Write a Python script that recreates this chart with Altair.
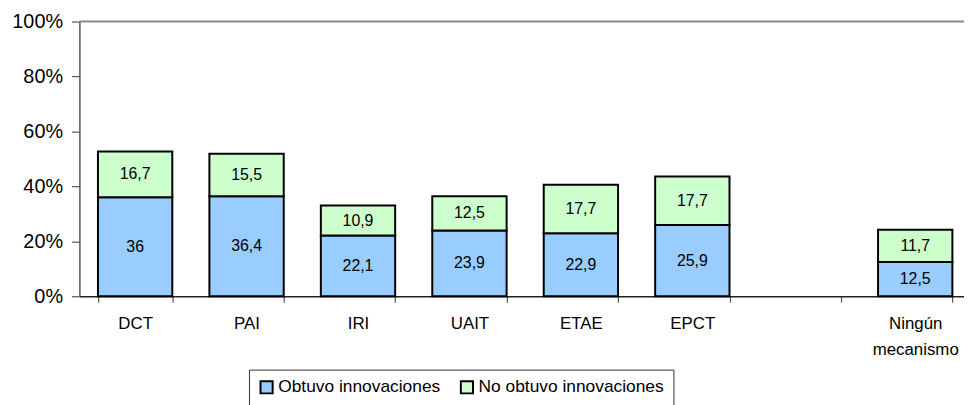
import altair as alt
import pandas as pd

categories = ["DCT", "PAI", "IRI", "UAIT", "ETAE", "EPCT", "", "Ningún mecanismo"]
bar_categories = ["DCT", "PAI", "IRI", "UAIT", "ETAE", "EPCT", "Ningún mecanismo"]
series = ["Obtuvo innovaciones", "No obtuvo innovaciones"]
obtuvo = [36, 36.4, 22.1, 23.9, 22.9, 25.9, 12.5]
no_obtuvo = [16.7, 15.5, 10.9, 12.5, 17.7, 17.7, 11.7]
colors = ["#99CCFF", "#CCFFCC"]
y_ticks = [0, 20, 40, 60, 80, 100]

rows = []
for i, c in enumerate(bar_categories):
    rows.append({"cat": c, "serie": series[0], "idx": 0, "value": obtuvo[i]})
    rows.append({"cat": c, "serie": series[1], "idx": 1, "value": no_obtuvo[i]})
df = pd.DataFrame(rows)

FONT = "Liberation Sans"

xscale = alt.Scale(domain=categories, range=[0, 899], paddingInner=0.333, paddingOuter=0.1665)
yscale = alt.Scale(domain=[0, 100], nice=False)

base = alt.Chart(df).transform_stack(
    stack="value", groupby=["cat"], as_=["v0", "v1"], sort=[alt.SortField("idx")]
).transform_calculate(
    mid="(datum.v0 + datum.v1) / 2",
    lab="replace(toString(datum.value), '.', ',')",
)

xaxis = alt.Axis(
    title=None, labelAngle=0, labelFont=FONT, labelFontSize=17, labelColor="black",
    tickBand="extent", tickSize=6, tickColor="#555", tickWidth=1.2,
    domainColor="#222", domainWidth=1.5, labelPadding=14, labelLineHeight=26,
    labelExpr="datum.value == 'Ningún mecanismo' ? ['Ningún', 'mecanismo'] : datum.value",
)
yaxis = alt.Axis(
    title=None, values=y_ticks, grid=False, labelFont=FONT, labelFontSize=20,
    labelColor="black", labelExpr="datum.value + '%'", tickSize=8, tickColor="#555",
    tickWidth=1.2, domainColor="#555", domainWidth=1.5, labelPadding=9,
)

bars = base.mark_bar(stroke="black", strokeWidth=2).encode(
    x=alt.X("cat:N", scale=xscale, axis=xaxis, sort=categories),
    y=alt.Y("v0:Q", scale=yscale, axis=yaxis),
    y2="v1:Q",
    color=alt.Color(
        "serie:N",
        scale=alt.Scale(domain=series, range=colors),
        legend=alt.Legend(
            title=None, orient="none", legendX=171, legendY=351, direction="horizontal",
            strokeColor="#333", fillColor="white", padding=9, symbolType="square",
            symbolSize=150, symbolStrokeColor="black", symbolStrokeWidth=2,
            symbolOpacity=1, labelFont=FONT, labelFontSize=17.5, labelColor="black",
            labelOffset=3, columnPadding=16, labelLimit=0,
        ),
    ),
)

text = base.mark_text(font=FONT, fontSize=16, color="black").encode(
    x=alt.X("cat:N", scale=xscale, sort=categories),
    y=alt.Y("mid:Q", scale=yscale),
    text="lab:N",
)

top = alt.Chart(alt.Data(values=[{}])).mark_rule(color="#888", strokeWidth=2).encode(
    x=alt.value(0), x2=alt.value(899), y=alt.value(0)
)

chart = alt.layer(bars, text, top).properties(
    width=892, height=277,
    padding={"left": 72, "top": 12, "right": 0, "bottom": 108},
    autosize=alt.AutoSizeParams(type="none"),
).configure_view(stroke=None)

chart.save("out.html", embed_options={"renderer": "svg", "actions": False})
